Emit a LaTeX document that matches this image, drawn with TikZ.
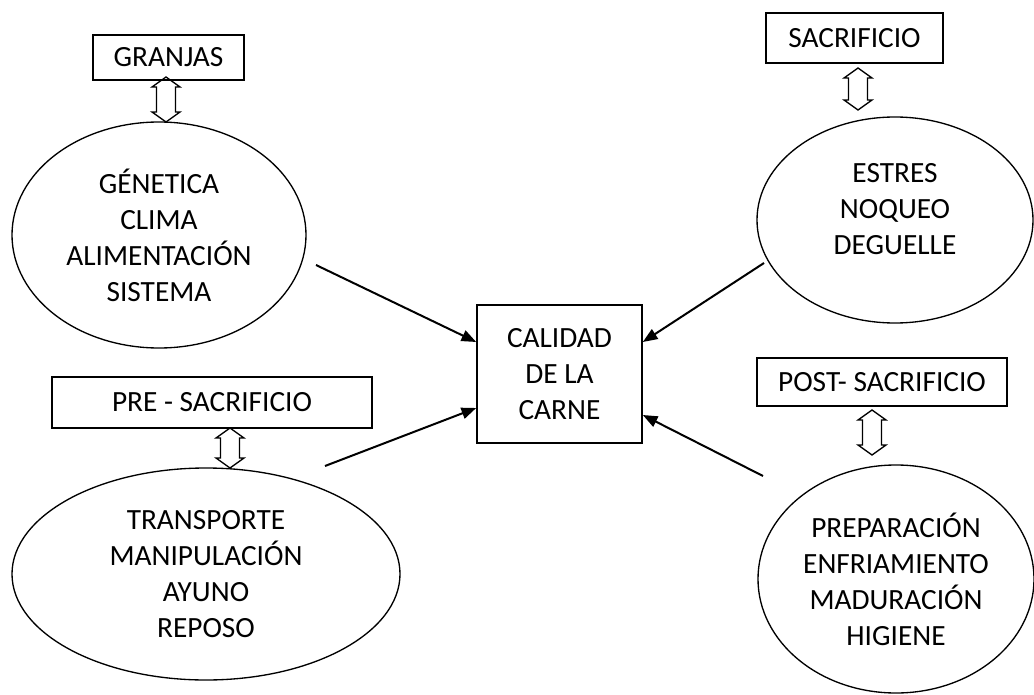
\documentclass[tikz,border=0pt]{standalone}
\usepackage{fontspec}
\setmainfont{Carlito}
\usetikzlibrary{shapes.geometric,arrows.meta}

\begin{document}
\begin{tikzpicture}[x=0.75pt, y=-0.75pt,
          caja/.style={draw, line width=1.2pt, align=center, inner sep=0pt,
                       font=\fontsize{22}{27}\selectfont},
          factor/.style={ellipse, draw, line width=1pt, align=center, inner sep=0pt,
                       font=\fontsize{22}{27}\selectfont},
          enlace/.style={draw, line width=1pt, line join=miter},
          flecha/.style={line width=1.5pt, -{Triangle[length=11pt,width=8.5pt]}}]
          \useasboundingbox (0,0) rectangle (1034,695);
          % centro
          \node[caja, minimum width=123.75pt, minimum height=103.5pt] (calidad) at (559.5,374) {CALIDAD\\DE LA\\CARNE};
          % etapas
          \node[caja, minimum width=113.25pt, minimum height=33.75pt] (granjas) at (168.5,57.5) {GRANJAS};
          \node[caja, minimum width=132.75pt, minimum height=37.5pt] (sacrificio) at (854.5,38) {SACRIFICIO};
          \node[caja, minimum width=240pt, minimum height=38.25pt] (presacrificio) at (212,402.5) {PRE - SACRIFICIO};
          \node[caja, minimum width=187.5pt, minimum height=36pt] (postsacrificio) at (882,382) {POST- SACRIFICIO};
          % factores
          \node[factor, minimum width=220.5pt, minimum height=169.5pt] (genetica) at (159,235) {GÉNETICA\\CLIMA\\ALIMENTACIÓN\\SISTEMA};
          \node[factor, minimum width=207pt, minimum height=154.5pt] (estres) at (895,220) {ESTRES\\NOQUEO\\DEGUELLE\\[-11pt]};
          \node[factor, minimum width=291pt, minimum height=159pt] (transporte) at (206,574) {TRANSPORTE\\MANIPULACIÓN\\AYUNO\\REPOSO};
          \node[factor, minimum width=207pt, minimum height=171pt] (preparacion) at (896,579) {PREPARACIÓN\\ENFRIAMIENTO\\MADURACIÓN\\HIGIENE};
          % enlaces etapa - factor (doble flecha hueca)
          \foreach \cx/\ya/\yb in {166/77/122, 858/68/110, 230/428/468, 872/410/455}{
              \draw[enlace] (\cx,\ya) -- (\cx+14,\ya+10) -- (\cx+9.5,\ya+10) -- (\cx+9.5,\yb-10)
                  -- (\cx+14,\yb-10) -- (\cx,\yb) -- (\cx-14,\yb-10) -- (\cx-9.5,\yb-10)
                  -- (\cx-9.5,\ya+10) -- (\cx-14,\ya+10) -- cycle;
          }
          % flechas hacia el centro
          \coordinate (s1) at (316,265);
          \coordinate (s2) at (764,263);
          \coordinate (s3) at (325,466);
          \coordinate (s4) at (763,476);
          \draw[flecha] (s1) -- ([yshift=24pt]calidad.west);
          \draw[flecha] (s2) -- ([yshift=24pt]calidad.east);
          \draw[flecha] (s3) -- ([yshift=-25.5pt]calidad.west);
          \draw[flecha] (s4) -- ([yshift=-30.75pt]calidad.east);
      \end{tikzpicture}
\end{document}
